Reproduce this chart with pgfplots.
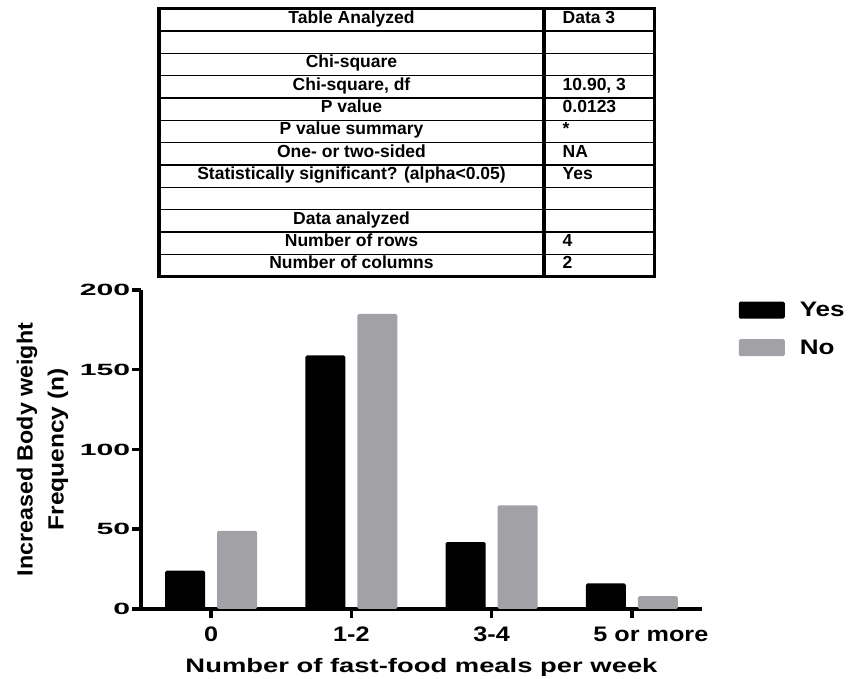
\documentclass[border=0pt]{standalone}
\usepackage{fontspec}
\setmainfont{Liberation Sans}
\usepackage{graphicx}
\usepackage{pgfplots}
\pgfplotsset{compat=1.18}
\definecolor{barno}{RGB}{161,161,166}
\newcommand\trow[3]{%
  \node[anchor=base,inner sep=0pt] at (351.5,{678-22.33*#1}) {#2};
  \node[anchor=base west,inner sep=0pt] at (562.5,{678-22.33*#1}) {#3};}
\newcommand\ys[1]{\scalebox{1.85}[1]{#1}}
\newcommand\xs[1]{\scalebox{1.2}[1]{#1}}
\pgfplotsset{
  every axis/.append style={line width=3.5bp},
  every outer x axis line/.append style={line width=3.5bp},
  every outer y axis line/.append style={line width=3.5bp},
  every tick/.append style={line width=3.5bp},
  every major tick/.append style={line width=3.5bp},
}
\begin{document}
\begin{tikzpicture}[x=1bp,y=1bp]
\path[use as bounding box] (0,0) rectangle (854,679);
% results table
\foreach \i in {1,...,11} \draw[line width=1.2bp] (159,{670.3-22.33*\i}) -- (654.5,{670.3-22.33*\i});
\draw[line width=3.3bp] (159,670.3) rectangle (654.5,402.3);
\draw[line width=3.3bp] (544,670.3) -- (544,402.3);
\begin{scope}[font=\fontsize{17.5bp}{20bp}\selectfont\bfseries]
\trow{1}{Table Analyzed}{Data 3}
\trow{3}{Chi-square}{}
\trow{4}{Chi-square, df}{10.90, 3}
\trow{5}{P value}{0.0123}
\trow{6}{P value summary}{*}
\trow{7}{One- or two-sided}{NA}
\trow{8}{Statistically significant? (alpha<0.05)}{Yes}
\trow{10}{Data analyzed}{}
\trow{11}{Number of rows}{4}
\trow{12}{Number of columns}{2}
\end{scope}
\begin{axis}[
  at={(141bp,70bp)}, anchor=south west,
  scale only axis, width=561bp, height=319bp,
  ymin=0, ymax=200, xmin=-0.5, xmax=3.5,
  axis x line=bottom, axis y line=left,
  axis line style={-, line width=3.5bp},
  ytick={0,50,100,150,200},
  yticklabels={\ys{0},\ys{50},\ys{100},\ys{150},\ys{200}},
  xtick={0,1,2,3},
  xticklabels={\xs{0},\xs{1-2},\xs{3-4},\hspace*{38bp}\xs{5 or more}},
  tick align=outside, major tick length=9bp,
  tick style={line width=3.5bp, black},
  major tick style={line width=3.5bp, black},
  yticklabel style={font=\fontsize{16.3bp}{18bp}\selectfont\bfseries, inner sep=0pt},
  xticklabel style={font=\fontsize{21bp}{24bp}\selectfont\bfseries, inner sep=0pt, yshift=-7bp},
  every axis x label/.style={at={(rel axis cs:0.5,0)}, anchor=base, yshift=-64bp,
     font=\fontsize{19.5bp}{22bp}\selectfont\bfseries, inner sep=0pt},
  every axis y label/.style={at={(rel axis cs:-0.1758,0.5)}, rotate=90, anchor=center,
     align=center, font=\fontsize{22bp}{31bp}\selectfont\bfseries, inner sep=0pt},
  xlabel={\resizebox{472bp}{\height}{Number of fast-food meals per week}},
  ylabel={\resizebox{253bp}{\height}{Increased Body weight}\\\resizebox{162bp}{\height}{Frequency (n)}},
  ybar=12bp, bar width=40bp,
  legend image code/.code={\fill[#1] (0bp,-8.5bp) rectangle (46bp,8.5bp);},
  legend style={at={(rel axis cs:1.0624,0.969)}, anchor=north west, draw=none, fill=none,
     font=\fontsize{21bp}{21bp}\selectfont\bfseries, row sep=20.5bp, inner sep=0pt,
     nodes={inner sep=0pt},
     /tikz/every odd column/.style={column sep=15bp}},
  legend cell align=left,
]
\addplot[fill=black, draw=none, rounded corners=1.5bp] coordinates {(0,24) (1,159) (2,42) (3,16)};
\addlegendentry{\scalebox{1.24}[1]{Yes}}
\addplot[fill=barno, draw=none, rounded corners=1.5bp] coordinates {(0,49) (1,185) (2,65) (3,8)};
\addlegendentry{\scalebox{1.24}[1]{No}}
\end{axis}
\end{tikzpicture}
\end{document}
